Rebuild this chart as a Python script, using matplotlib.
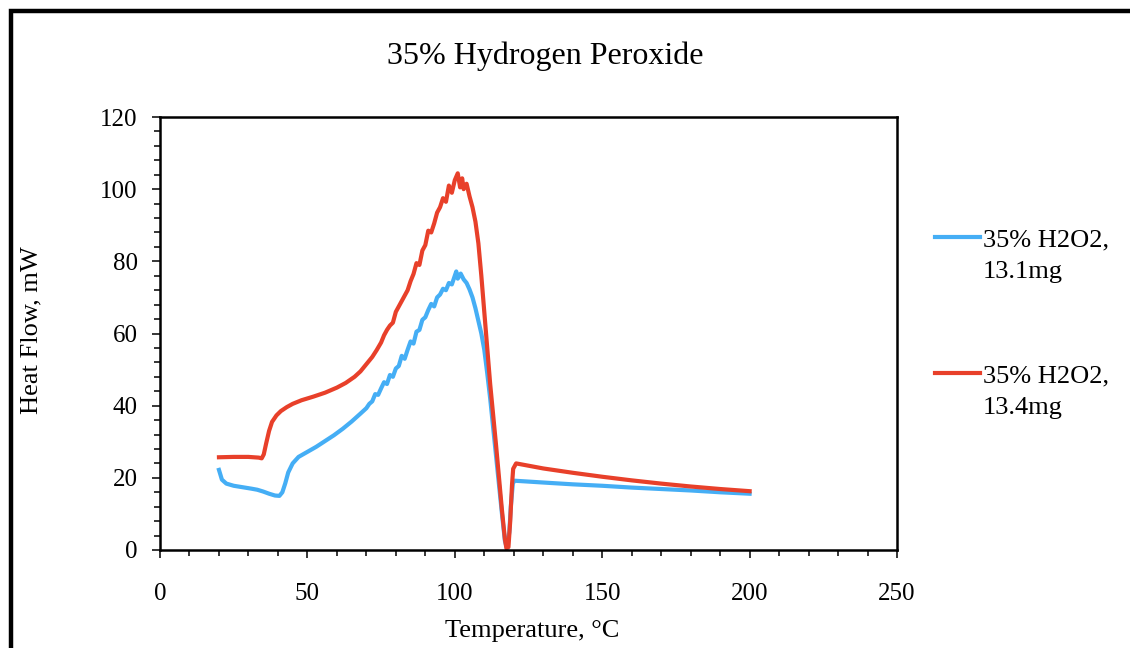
#!/usr/bin/env python3

import matplotlib
matplotlib.use("Agg")
import matplotlib.pyplot as plt
from matplotlib.lines import Line2D
from matplotlib.ticker import MultipleLocator

# 35% H2O2, 13.1mg (blue)
blue_temp = [20, 21, 22.5, 25, 28, 31, 33, 35, 37, 39, 40.5, 41.5, 42.5, 43.5, 45,
             47, 50, 53, 56, 59, 62, 65, 68, 70, 71, 72, 73, 74, 75, 76, 77, 78,
             79, 80, 81, 82, 83, 84, 85, 86, 87, 88, 89, 90, 91, 92, 93, 94, 95,
             96, 97, 98, 99, 100, 100.5, 101, 102, 103, 104, 105, 106, 107, 108,
             109, 110, 111, 112, 113, 114, 115, 116, 117, 117.7, 118.5, 119,
             119.7, 120.3, 130, 140, 150, 160, 170, 180, 190, 200]
blue_flow = [22.2, 19.5, 18.4, 17.8, 17.4, 17.0, 16.7, 16.2, 15.6, 15.1, 15.0, 16.0,
             18.5, 21.5, 24.0, 25.8, 27.2, 28.6, 30.2, 31.8, 33.6, 35.6, 37.8, 39.3,
             40.5, 41.2, 43.2, 43.0, 44.8, 46.5, 46.0, 48.5, 48.0, 50.3, 51.0, 53.8,
             53.0, 55.5, 57.8, 57.2, 60.5, 61.0, 63.8, 64.5, 66.5, 68.2, 67.5, 70.0,
             70.8, 72.4, 72.0, 74.0, 73.6, 76.0, 77.2, 75.2, 76.6, 75.0, 74.0, 72.2,
             70.0, 67.0, 63.5, 60.0, 55.5, 49.0, 42.0, 34.0, 26.0, 18.0, 10.0, 2.5,
             0.5, 5.0, 12.0, 18.5, 19.2, 18.7, 18.2, 17.8, 17.3, 16.9, 16.5, 16.0,
             15.6]

# 35% H2O2, 13.4mg (red)
red_temp = [20, 25, 30, 33.5, 34.5, 35.2, 36, 37, 38, 39.5, 41, 43, 45, 48, 52, 56,
            60, 63, 66, 68, 70, 72, 73.5, 75, 76, 77, 78, 79, 80, 81, 82, 83, 84,
            85, 86, 87, 88, 89, 90, 91, 92, 93, 94, 95, 96, 97, 98, 99, 100, 101,
            101.8, 102.5, 103, 104, 105, 106, 107, 108, 109, 110, 111, 112, 113,
            114, 115, 116, 117, 117.5, 118.2, 118.8, 119.4, 119.8, 120.8, 130, 140,
            150, 160, 170, 180, 190, 200]
red_flow = [25.7, 25.8, 25.8, 25.6, 25.4, 26.5, 29.5, 33.0, 35.5, 37.3, 38.5, 39.6,
            40.5, 41.5, 42.5, 43.6, 45.0, 46.3, 48.0, 49.5, 51.5, 53.5, 55.4, 57.5,
            59.5, 61.0, 62.2, 63.0, 66.0, 67.5, 69.0, 70.5, 72.0, 74.5, 76.5, 79.5,
            79.0, 83.0, 84.5, 88.5, 88.0, 90.5, 93.5, 95.0, 97.5, 96.5, 101.0, 99.0,
            102.5, 104.4, 100.5, 103.0, 100.0, 101.5, 98.0, 95.0, 91.0, 85.0, 76.0,
            66.0, 56.0, 46.0, 37.5, 29.0, 20.0, 11.0, 3.0, 0.5, 0.8, 8.0, 18.0, 22.5,
            24.0, 22.6, 21.4, 20.3, 19.3, 18.4, 17.6, 16.9, 16.3]

labels = ["35% H2O2,\n13.1mg", "35% H2O2,\n13.4mg"]
colors = ["#45aef5", "#e8402a"]

plt.rcParams["font.family"] = ["Liberation Serif", "DejaVu Serif"]

W, H = 1130, 648
fig = plt.figure(figsize=(W / 100, H / 100), dpi=100)
ax = fig.add_axes([160 / W, 1 - 550 / H, 737 / W, 433 / H])

ax.plot(blue_temp, blue_flow, color=colors[0], lw=3, solid_joinstyle="round")
ax.plot(red_temp, red_flow, color=colors[1], lw=3, solid_joinstyle="round")

ax.set_xlim(0, 250)
ax.set_ylim(0, 120)
ax.xaxis.set_major_locator(MultipleLocator(50))
ax.xaxis.set_minor_locator(MultipleLocator(10))
ax.yaxis.set_major_locator(MultipleLocator(20))
ax.yaxis.set_minor_locator(MultipleLocator(4))
ax.tick_params(which="major", direction="out", length=6, width=1.1, labelsize=18)
ax.tick_params(which="minor", direction="out", length=4.5, width=1.1)
ax.tick_params(axis="x", which="major", pad=18)
ax.tick_params(axis="y", which="major", pad=10)
for s in ax.spines.values():
    s.set_linewidth(1.8)

ax.set_xlabel("Temperature, °C", fontsize=19)
ax.xaxis.label.set_va("center")
ax.xaxis.set_label_coords((532 - 160) / 737, (550 - 631) / 433)
ax.set_ylabel("Heat Flow, mW", fontsize=19)
ax.yaxis.label.set_va("center")
ax.yaxis.set_label_coords((31 - 160) / 737, (550 - 330) / 433)

fig.text(545 / W, 1 - 56 / H, "35% Hydrogen Peroxide", fontsize=23,
         ha="center", va="center")

# legend, drawn by hand so the line sits on the first text row
for i, (lab, c) in enumerate(zip(labels, colors)):
    y0 = 237 + i * 136
    fig.add_artist(Line2D([935 / W, 980 / W], [1 - y0 / H, 1 - y0 / H],
                          color=c, lw=3))
    fig.text(983 / W, 1 - (y0 - 8) / H, lab, fontsize=19, ha="left",
             va="top", linespacing=1.6)

# outer chart frame (runs off the right and bottom edges)
fig.add_artist(Line2D([10.5 / W, 10.5 / W, 1.02], [-0.02, 1 - 11 / H, 1 - 11 / H],
                      color="black", lw=3.2, solid_joinstyle="miter"))

fig.savefig("out.png", dpi=100)
